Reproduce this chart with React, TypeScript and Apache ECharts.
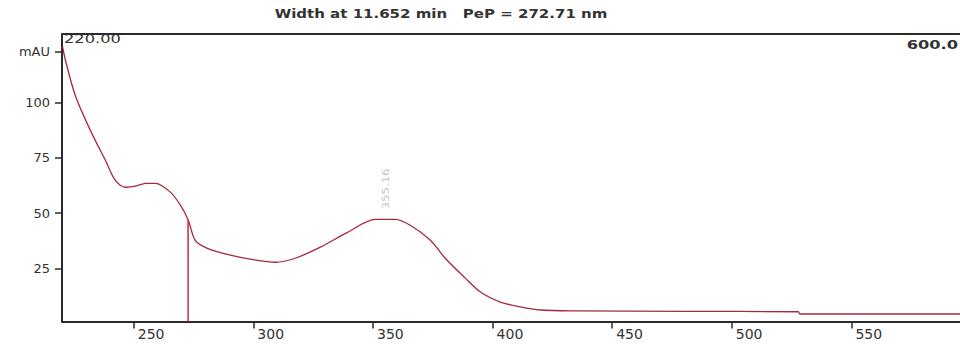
import React, { useEffect, useRef } from "react";
import * as echarts from "echarts";

const wavelengths = [220.2, 221.5, 225.6, 231.9, 238.2, 242.3, 246.5, 250.7, 254.9, 259.1, 265.3, 269.5, 272.8, 275.7, 280.8, 290.4, 298.7, 309.2, 317.5, 328.0, 339.3, 351.0, 359.3, 365.6, 374.0, 380.2, 388.6, 394.9, 403.2, 411.6, 420.0, 434.5, 480.0, 527.8, 528.4, 529.6, 565.0, 600.0];
const absorbance = [125.5, 118.8, 103.1, 87.3, 73.8, 64.8, 61.7, 62.2, 63.5, 63.5, 59.5, 53.6, 46.8, 37.7, 34.1, 31.0, 29.2, 27.8, 29.6, 34.6, 41.3, 47.2, 47.2, 44.5, 37.7, 29.6, 20.6, 14.3, 9.8, 7.6, 6.2, 5.8, 5.6, 5.4, 4.4, 4.4, 4.4, 4.4];
const markerWavelength = 272.71;
const markerTop = 46.8;
const peakWavelength = 355.16;
const peakValue = 47.2;
const xTickValues = [250, 300, 350, 400, 450, 500, 550];
const yTickValues = [25, 50, 75, 100, 123];
const titleText = "Width at 11.652 min   PeP = 272.71 nm";
const rangeStartLabel = "220.00";
const rangeEndLabel = "600.0";

export default function App() {
  const ref = useRef<HTMLDivElement>(null);
  useEffect(() => {
    if (!ref.current) return;
    const chart = echarts.init(ref.current, null, { renderer: "svg" });
    const font = "DejaVu Sans, Arial, sans-serif";
    chart.setOption({
      animation: false,
      backgroundColor: "#ffffff",
      grid: { left: 62, right: -11, top: 34, bottom: 23.5, containLabel: false, outerBoundsMode: "none" },
      xAxis: {
        type: "value",
        min: 220,
        max: 600,
        axisLine: { show: true, onZero: false, lineStyle: { color: "#2a2a2a", width: 2 } },
        axisTick: { show: true, customValues: xTickValues, length: 7, inside: false, lineStyle: { color: "#2a2a2a", width: 1.5 } },
        axisLabel: {
          customValues: xTickValues,
          align: "left",
          padding: [0, 0, 0, 4],
          margin: 5,
          color: "#333",
          fontSize: 14,
          fontFamily: font,
        },
        splitLine: { show: false },
      },
      yAxis: {
        type: "value",
        min: 1,
        max: 131,
        axisLine: { show: true, onZero: false, lineStyle: { color: "#2a2a2a", width: 2 } },
        axisTick: { show: true, customValues: yTickValues, length: 7, lineStyle: { color: "#2a2a2a", width: 1.5 } },
        axisLabel: {
          customValues: yTickValues,
          margin: 12,
          color: "#333",
          fontSize: 13,
          fontFamily: font,
          formatter: (v: number) => (v === 123 ? "mAU" : String(v)),
        },
        splitLine: { show: false },
      },
      series: [
        {
          type: "line",
          data: wavelengths.map((w, i) => [w, absorbance[i]]),
          smooth: 0.3,
          symbol: "none",
          lineStyle: { color: "#a8283a", width: 1.3 },
        },
        {
          type: "line",
          data: [[markerWavelength, 1], [markerWavelength, markerTop]],
          symbol: "none",
          lineStyle: { color: "#c8284a", width: 1.5 },
        },
      ],
    });
    const [px, py] = chart.convertToPixel({ gridIndex: 0 }, [peakWavelength, peakValue]) as number[];
    chart.setOption({
      graphic: [
        {
          type: "line",
          shape: { x1: 62, y1: 34, x2: 960, y2: 34 },
          style: { stroke: "#2a2a2a", lineWidth: 2 },
        },
        {
          type: "text",
          x: 441,
          y: 14,
          scaleX: 1.25,
          style: { text: titleText, font: `bold 12px ${font}`, fill: "#333", align: "center", verticalAlign: "middle" },
        },
        {
          type: "text",
          x: 64,
          y: 38,
          scaleX: 1.25,
          style: { text: rangeStartLabel, font: `13px ${font}`, fill: "#333", align: "left", verticalAlign: "middle" },
        },
        {
          type: "text",
          x: 958,
          y: 44,
          scaleX: 1.25,
          style: { text: rangeEndLabel, font: `bold 13px ${font}`, fill: "#333", align: "right", verticalAlign: "middle" },
        },
        {
          type: "text",
          x: px,
          y: py - 10,
          rotation: Math.PI / 2,
          scaleX: 1.3,
          style: { text: "355.16", font: `9px ${font}`, fill: "#c4c4c4", align: "left", verticalAlign: "middle" },
        },
      ],
    });
    return () => chart.dispose();
  }, []);
  return <div ref={ref} style={{ width: 960, height: 345, position: "absolute", left: 0, top: 0 }} />;
}
